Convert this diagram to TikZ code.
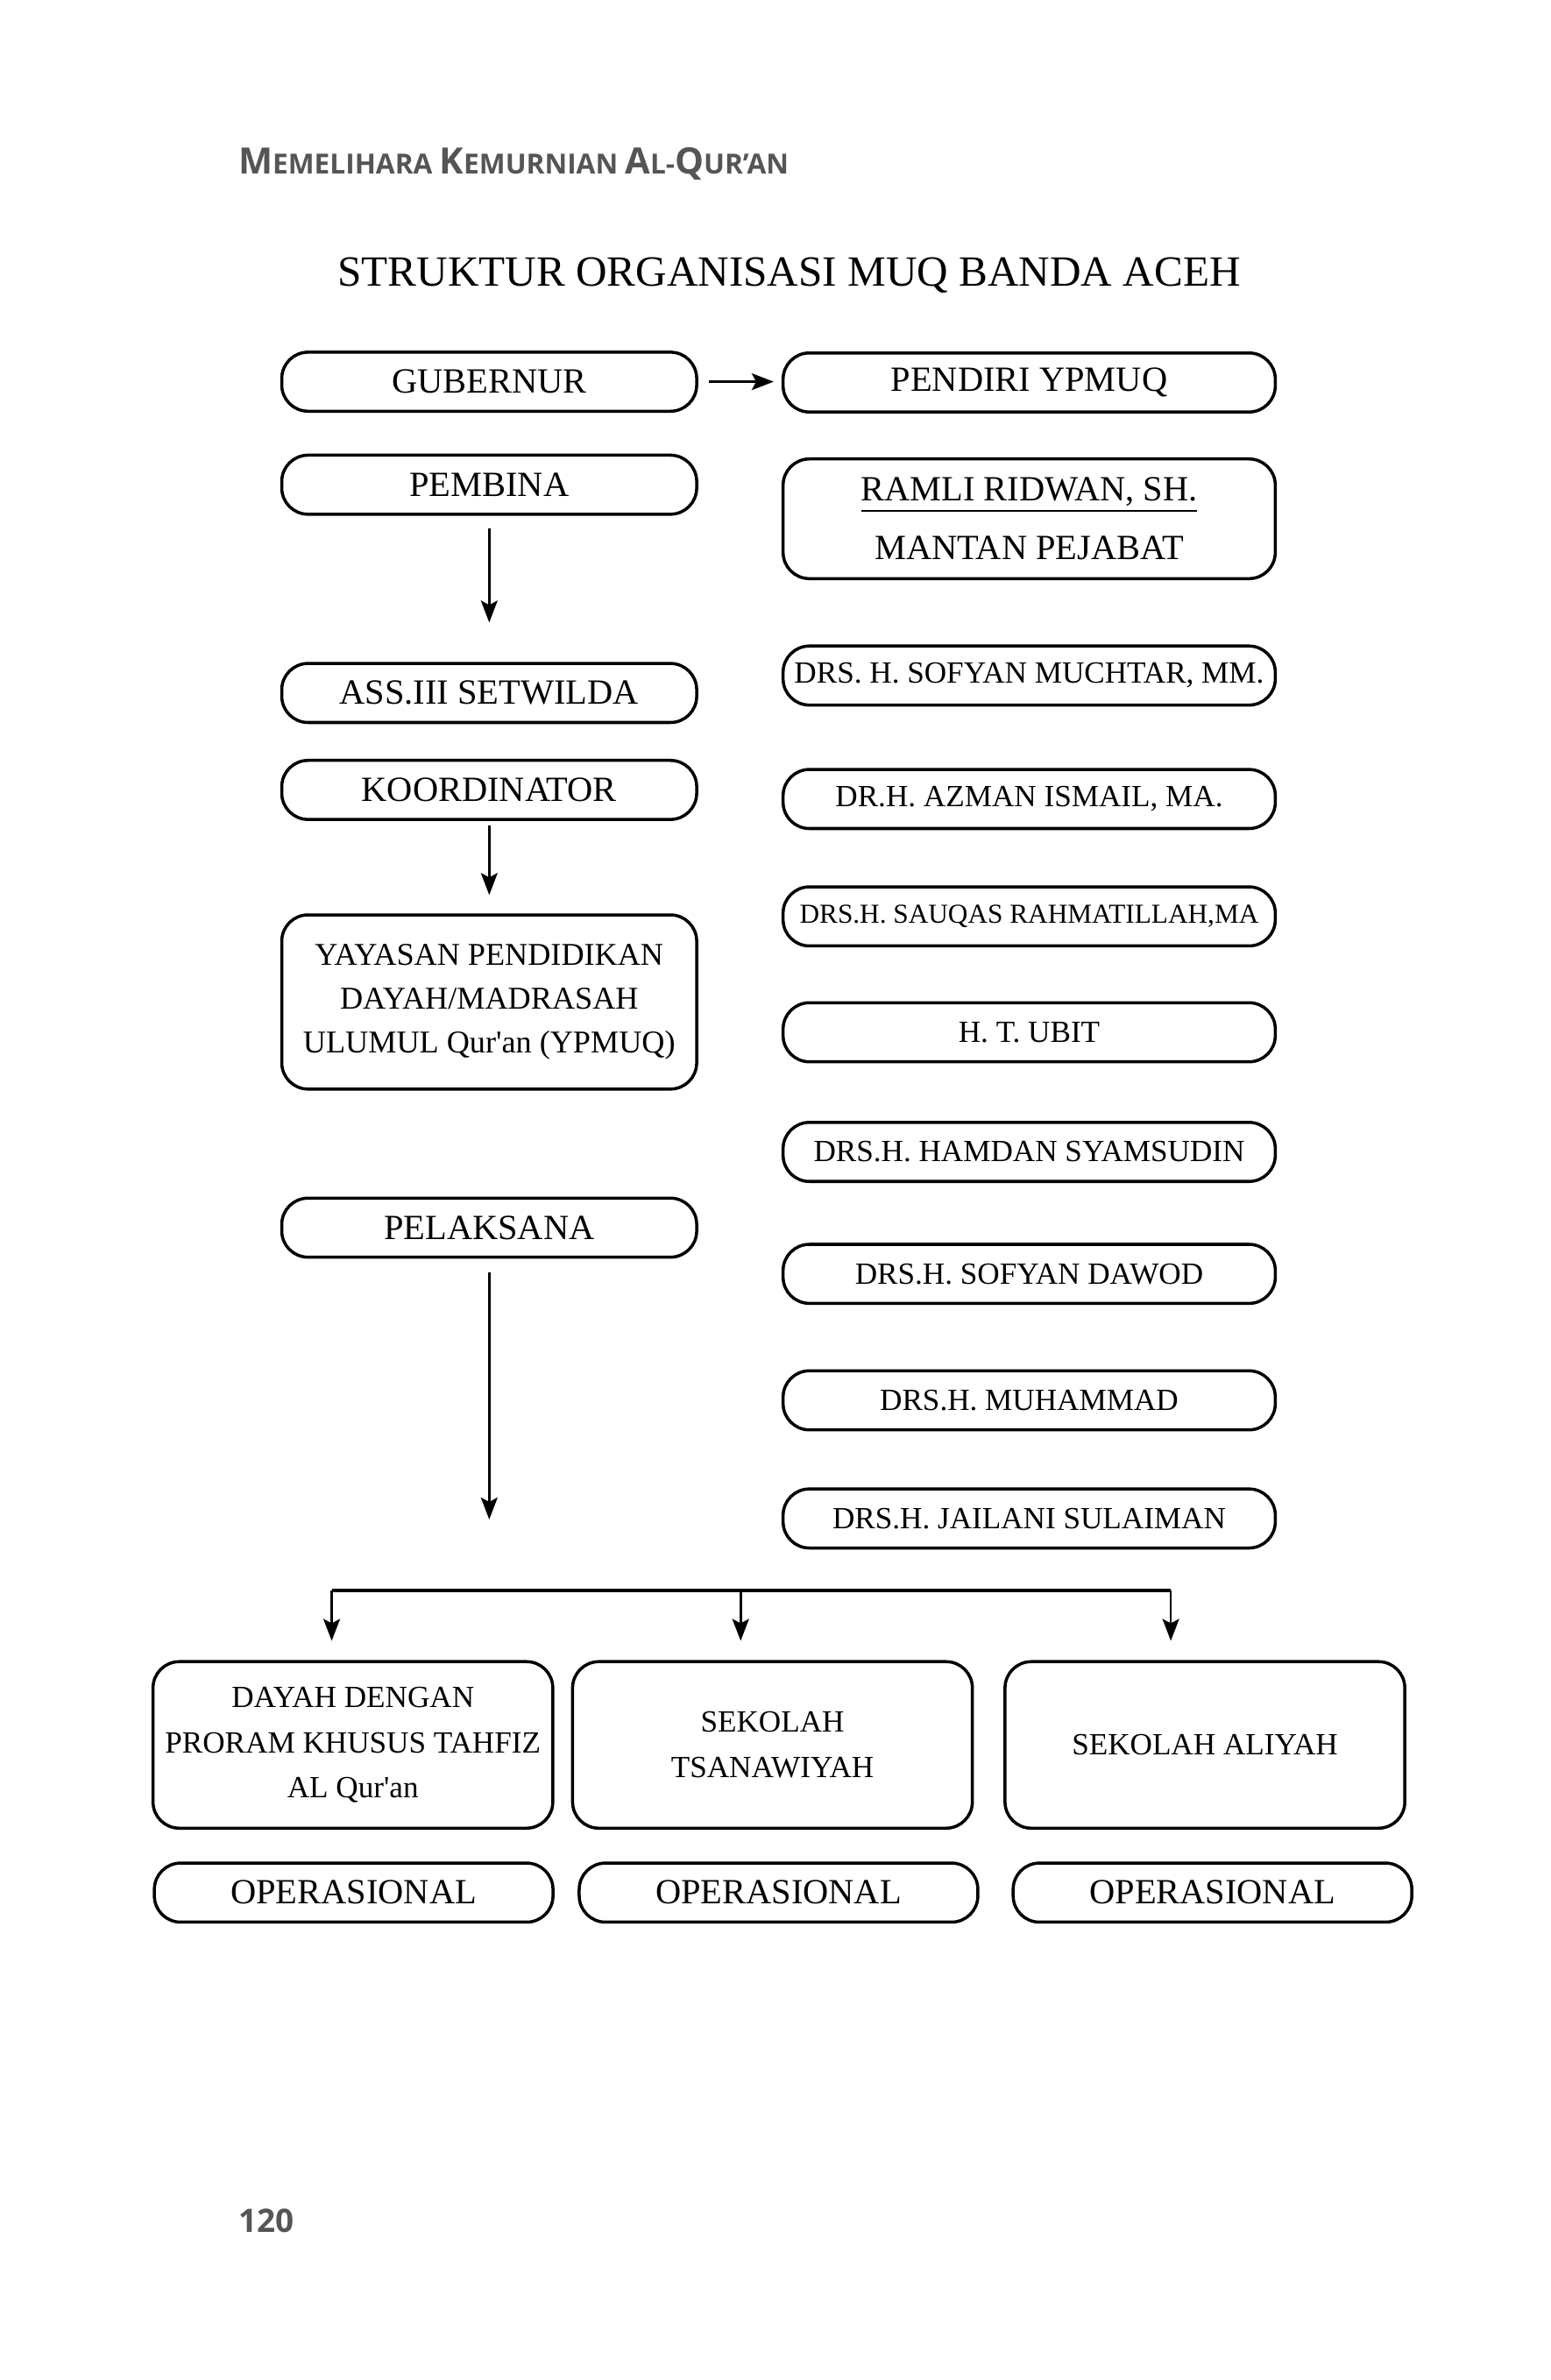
\documentclass[tikz,border=0pt]{standalone}
\usepackage{fontspec}
\setmainfont{Liberation Serif}
\newfontfamily\hdrfont{Open Sans}
\usetikzlibrary{positioning,arrows.meta}
\definecolor{hdrgray}{HTML}{555555}
\newcommand{\hcap}[1]{{\fontsize{11.8}{13}\selectfont #1}}
\newcommand{\apos}{\textquotesingle}

\begin{document}
\begin{tikzpicture}[x=0.017285cm, y=-0.017285cm,
    box/.style={draw, line width=1pt, rounded corners=3mm, inner sep=0pt,
      align=center, minimum height=0.674cm, font=\fontsize{11.5}{14}\selectfont},
    lbox/.style={box, minimum width=4.736cm},
    rbox/.style={box, minimum width=5.618cm},
    rname/.style={rbox, font=\fontsize{10}{12}\selectfont},
    sbox/.style={box, minimum width=4.563cm, minimum height=1.901cm,
      font=\fontsize{10}{14.7}\selectfont},
    obox/.style={box, minimum width=4.55cm},
    arr/.style={-{Stealth[length=2.5mm, width=1.9mm, inset=0.5mm]}, line width=0.75pt}]
    \useasboundingbox (0,0) rectangle (1024,1571.3);

    % page head
    \node[anchor=west, inner sep=0pt, text=hdrgray, font=\hdrfont\bfseries\fontsize{9}{11}\selectfont]
        (hdr) at (157,108) {\hcap{M}EMELIHARA \hcap{K}EMURNIAN \hcap{A}L-\hcap{Q}UR’AN};
    \node[inner sep=0pt, font=\fontsize{14}{16}\selectfont] (title) at (521,182)
        {STRUKTUR ORGANISASI MUQ BANDA ACEH};

    % left column
    \node[lbox] (gub) at (323,252) {GUBERNUR};
    \node[lbox] (pembina) at (323,320) {PEMBINA};
    \node[lbox] (ass) at (323,457.5) {ASS.III SETWILDA};
    \node[lbox] (koord) at (323,521.5) {KOORDINATOR};
    \node[lbox, minimum height=1.988cm, font=\fontsize{10.3}{14.3}\selectfont] (ypmuq) at (323,661.5)
        {YAYASAN PENDIDIKAN\\DAYAH/MADRASAH\\ULUMUL Qur\apos an (YPMUQ)};
    \node[lbox] (pelaksana) at (323,810.5) {PELAKSANA};

    % right column
    \node[rbox] (pendiri) at (679.5,252.5) {PENDIRI YPMUQ};
    \node[rbox, minimum height=1.366cm] (ramli) at (679.5,342.5)
        {\underline{RAMLI RIDWAN, SH.}\\[5pt]MANTAN PEJABAT};
    \node[rname] (sofyan) at (679.5,446) {DRS. H. SOFYAN MUCHTAR, MM.};
    \node[rname] (azman) at (679.5,527.5) {DR.H. AZMAN ISMAIL, MA.};
    \node[rname, font=\fontsize{8.9}{11}\selectfont] (sauqas) at (679.5,605) {DRS.H. SAUQAS RAHMATILLAH,MA};
    \node[rname] (ubit) at (679.5,681.5) {H. T. UBIT};
    \node[rname] (hamdan) at (679.5,760.5) {DRS.H. HAMDAN SYAMSUDIN};
    \node[rname] (dawod) at (679.5,841) {DRS.H. SOFYAN DAWOD};
    \node[rname] (muhammad) at (679.5,924.5) {DRS.H. MUHAMMAD};
    \node[rname] (jailani) at (679.5,1002.5) {DRS.H. JAILANI SULAIMAN};

    % schools
    \node[sbox] (dayah) at (233,1152) {DAYAH DENGAN\\PRORAM KHUSUS TAHFIZ\\AL Qur\apos an};
    \node[sbox] (tsana) at (510,1152) {SEKOLAH\\TSANAWIYAH};
    \node[sbox] (aliyah) at (795.5,1152) {SEKOLAH ALIYAH};
    \node[obox] (op1) at (233.5,1249.5) {OPERASIONAL};
    \node[obox] (op2) at (514,1249.5) {OPERASIONAL};
    \node[obox] (op3) at (800.5,1249.5) {OPERASIONAL};

    \node[anchor=west, inner sep=0pt, text=hdrgray, font=\hdrfont\bfseries\fontsize{10.5}{12}\selectfont]
        (pnum) at (157,1466) {120};

    \coordinate (bus) at (323,1050);
    \coordinate (bl) at (219,1050);
    \coordinate (bm) at (489,1050);
    \coordinate (br) at (773,1050);

    \path
        (gub.east) edge[arr, shorten <=0.12cm, shorten >=0.09cm] (gub.east -| pendiri.west)
        (pembina) edge[arr, shorten <=0.14cm, shorten >=0.45cm] (ass)
        (koord) edge[arr, shorten <=0.05cm, shorten >=0.21cm] (ypmuq)
        (pelaksana) edge[arr, shorten <=0.16cm, shorten >=0.81cm] (bus)
        ;
    \draw[line width=1.1pt] (bl) -- (br);
    \draw[arr, shorten >=0.22cm] (bl) -- (bl |- dayah.north);
    \draw[arr, shorten >=0.22cm] (bm) -- (bm |- tsana.north);
    \draw[arr, shorten >=0.22cm] (br) -- (br |- aliyah.north);
\end{tikzpicture}
\end{document}
